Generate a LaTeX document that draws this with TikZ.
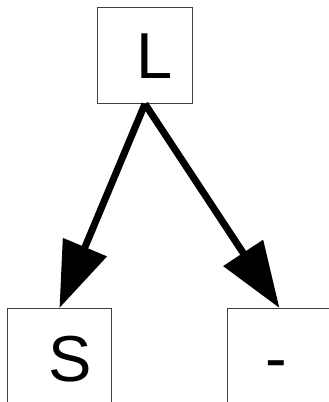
\documentclass[tikz,border=0pt]{standalone}
\usepackage{fontspec}
\setmainfont{Liberation Sans}
\usetikzlibrary{arrows.meta}
\begin{document}
\begin{tikzpicture}[x=1pt,y=-1pt,
  box/.style={draw=black!75,line width=0.9pt,minimum width=95pt,minimum height=96pt,inner sep=0pt,anchor=north west},
  lab/.style={anchor=base,inner sep=0pt,font=\fontsize{65}{70}\selectfont},
  conn/.style={line width=7pt,-{Triangle[length=66pt,width=46pt]}}]
\clip (0,0) rectangle (329,402);
\fill[white] (0,0) rectangle (329,402);
\node[box] (L) at (97,7) {};
\node[box,minimum width=104pt] (S) at (7,308) {};
\node[box,minimum width=104pt] (M) at (227,308) {};
\node[lab] (tL) at (154.7,78) {L};
\node[lab] (tS) at (70.5,381) {S};
\node[lab] (tM) at (276,380) {-};
\draw[conn] (L.south) -- (S.north);
\draw[conn] (L.south) -- (M.north);
\end{tikzpicture}
\end{document}
